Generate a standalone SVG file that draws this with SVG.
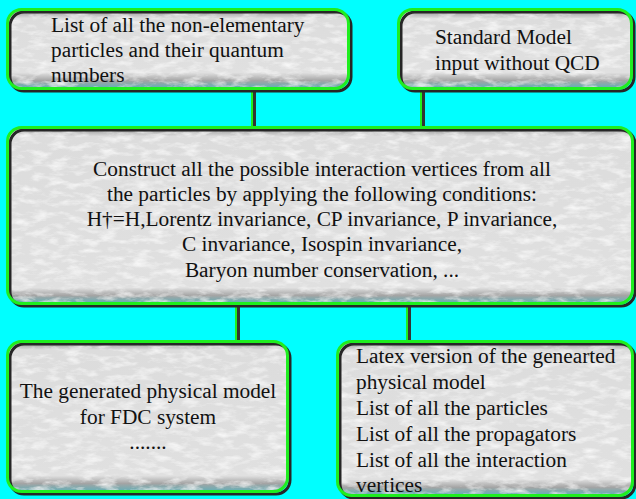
<svg xmlns="http://www.w3.org/2000/svg" width="636" height="499" viewBox="0 0 636 499">
<defs>
<filter id="tex" x="0" y="0" width="1" height="1">
<feTurbulence type="fractalNoise" baseFrequency="0.06 0.16" numOctaves="4" seed="7" result="n"/>
<feColorMatrix in="n" type="matrix" values="0 0 0 0 1  0 0 0 0 1  0 0 0 0 1  1.6 0 0 0 -0.7" result="w"/>
<feComposite in="w" in2="SourceGraphic" operator="in" result="wc"/>
<feMerge><feMergeNode in="SourceGraphic"/><feMergeNode in="wc"/></feMerge>
</filter>
<linearGradient id="g1" x1="0" y1="0" x2="0" y2="1">
<stop offset="0" stop-color="#8a8a8a"/><stop offset="0.11" stop-color="#dcdcdc"/><stop offset="0.8" stop-color="#e0e0e0"/><stop offset="0.9" stop-color="#a4a4a4"/><stop offset="1" stop-color="#5fb0b8"/>
</linearGradient>
<linearGradient id="g3" x1="0" y1="0" x2="0" y2="1">
<stop offset="0" stop-color="#8a8a8a"/><stop offset="0.05" stop-color="#dcdcdc"/><stop offset="0.91" stop-color="#e0e0e0"/><stop offset="0.955" stop-color="#a4a4a4"/><stop offset="1" stop-color="#5fb0b8"/>
</linearGradient>
<linearGradient id="g4" x1="0" y1="0" x2="0" y2="1">
<stop offset="0" stop-color="#8a8a8a"/><stop offset="0.055" stop-color="#dcdcdc"/><stop offset="0.895" stop-color="#e0e0e0"/><stop offset="0.947" stop-color="#a4a4a4"/><stop offset="1" stop-color="#5fb0b8"/>
</linearGradient>
</defs>
<style>
.sh{fill:none;stroke:#262626;stroke-width:3}
.gr{fill:none;stroke:#1fee1f;stroke-width:3}
.fl{filter:url(#tex)}
text{font-family:'Liberation Serif','Times New Roman',serif;font-size:21.33px;fill:#111}
.c{text-anchor:middle}
.cg{fill:#1fee1f}
.cd{fill:#333}
</style>
<rect width="636" height="499" fill="#00ffff"/>
<g id="connectors">
<rect class="cg" x="251" y="89" width="2" height="38"/><rect class="cd" x="253" y="89" width="3" height="38"/>
<rect class="cg" x="420" y="89" width="2" height="38"/><rect class="cd" x="422" y="89" width="3" height="38"/>
<rect class="cg" x="235" y="303" width="2" height="38"/><rect class="cd" x="237" y="303" width="3" height="38"/>
<rect class="cg" x="406" y="303" width="2" height="38"/><rect class="cd" x="408" y="303" width="3" height="38"/>
</g>
<g id="node1">
<rect class="fl" x="7.5" y="9.5" width="341" height="79" rx="14" fill="url(#g1)"/>
<rect class="sh" x="10" y="12" width="341" height="79" rx="14"/>
<rect class="gr" x="7.5" y="9.5" width="341" height="79" rx="14"/>
<text x="51" y="32">List of all the non-elementary</text>
<text x="51" y="57">particles and their quantum</text>
<text x="51" y="82">numbers</text>
</g>
<g id="node2">
<rect class="fl" x="398.5" y="9.5" width="233" height="79" rx="14" fill="url(#g1)"/>
<rect class="sh" x="401" y="12" width="233" height="79" rx="14"/>
<rect class="gr" x="398.5" y="9.5" width="233" height="79" rx="14"/>
<text x="435" y="44">Standard Model</text>
<text x="435" y="70">input without QCD</text>
</g>
<g id="node3">
<rect class="fl" x="7.5" y="127.5" width="625" height="176" rx="14" fill="url(#g3)"/>
<rect class="sh" x="10" y="130" width="625" height="176" rx="14"/>
<rect class="gr" x="7.5" y="127.5" width="625" height="176" rx="14"/>
<text class="c" x="322" y="176">Construct all the possible interaction vertices from all</text>
<text class="c" x="322" y="201">the particles by applying the following conditions:</text>
<text class="c" x="322" y="226">H†=H,Lorentz invariance, CP invariance, P invariance,</text>
<text class="c" x="322" y="251">C invariance, Isospin invariance,</text>
<text class="c" x="322" y="277">Baryon number conservation, ...</text>
</g>
<g id="node4">
<rect class="fl" x="7.5" y="341.5" width="280" height="150" rx="14" fill="url(#g4)"/>
<rect class="sh" x="10" y="344" width="280" height="150" rx="14"/>
<rect class="gr" x="7.5" y="341.5" width="280" height="150" rx="14"/>
<text class="c" x="148" y="398">The generated physical model</text>
<text class="c" x="148" y="424">for FDC system</text>
<text class="c" x="148" y="449">.......</text>
</g>
<g id="node5">
<rect class="fl" x="337.5" y="341.5" width="295" height="154" rx="14" fill="url(#g4)"/>
<rect class="sh" x="340" y="344" width="295" height="154" rx="14"/>
<rect class="gr" x="337.5" y="341.5" width="295" height="154" rx="14"/>
<text x="356" y="363">Latex version of the genearted</text>
<text x="356" y="389">physical model</text>
<text x="356" y="415">List of all the particles</text>
<text x="356" y="441">List of all the propagators</text>
<text x="356" y="467">List of all the interaction</text>
<text x="356" y="492">vertices</text>
</g>
</svg>
